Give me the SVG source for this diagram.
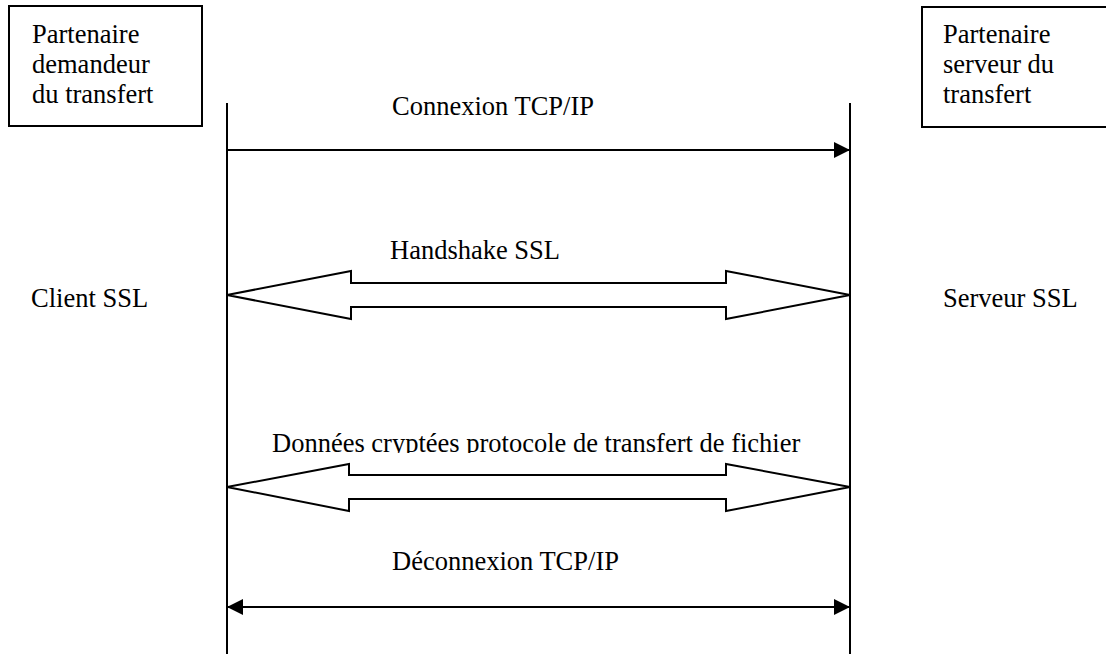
<svg xmlns="http://www.w3.org/2000/svg" width="1106" height="654" viewBox="0 0 1106 654">
<style>
text{font-family:"Liberation Serif","DejaVu Serif",serif;font-size:26.5px;fill:#000}
.box{fill:#fff;stroke:#000;stroke-width:2}
.life{stroke:#000;stroke-width:2;fill:none}
.ln{stroke:#000;stroke-width:2;fill:none}
.blk{fill:#fff;stroke:#000;stroke-width:2;stroke-linejoin:miter}
</style>
<defs>
<marker id="ah" viewBox="0 0 16 16" refX="16" refY="8" markerWidth="16" markerHeight="16" markerUnits="userSpaceOnUse" orient="auto-start-reverse">
<path d="M0,0 L16,8 L0,16 Z" fill="#000"/>
</marker>
<clipPath id="clipData"><rect x="200" y="400" width="700" height="53"/></clipPath>
</defs>
<rect width="1106" height="654" fill="#fff"/>
<g id="client">
<rect class="box" x="9" y="6" width="193" height="120"/>
<text x="32" y="43">Partenaire</text>
<text x="32" y="73">demandeur</text>
<text x="32" y="103">du transfert</text>
<text x="31" y="307">Client SSL</text>
</g>
<g id="server">
<rect class="box" x="922" y="7" width="200" height="120"/>
<text x="943" y="43">Partenaire</text>
<text x="943" y="73">serveur du</text>
<text x="943" y="103">transfert</text>
<text x="943" y="307">Serveur SSL</text>
</g>
<g id="connectors">
<line class="life" x1="227" y1="103" x2="227" y2="654"/>
<line class="life" x1="850" y1="103" x2="850" y2="654"/>
<line class="ln" x1="227" y1="150" x2="850" y2="150" marker-end="url(#ah)"/>
<text x="392" y="115">Connexion TCP/IP</text>
<polygon class="blk" points="227,295 351,271 351,283 726,283 726,271 850,295 726,319 726,307 351,307 351,319"/>
<text x="390" y="259">Handshake SSL</text>
<polygon class="blk" points="227,487 349,464 349,475 726,475 726,464 850,487 726,511 726,499 349,499 349,511"/>
<text x="272" y="452" clip-path="url(#clipData)">Données cryptées protocole de transfert de fichier</text>
<line class="ln" x1="227" y1="607" x2="850" y2="607" marker-start="url(#ah)" marker-end="url(#ah)"/>
<text x="392" y="570">Déconnexion TCP/IP</text>
</g>
</svg>
